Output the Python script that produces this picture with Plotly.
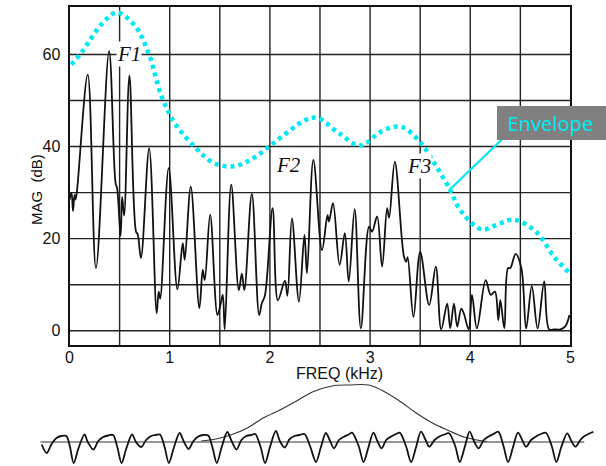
import plotly.graph_objects as go

W, H = 606, 466

# ---- spectrum (FREQ kHz, MAG dB) ----
spec_freq = [0.00, 0.02, 0.035, 0.05, 0.06, 0.075, 0.182, 0.264, 0.395, 0.46, 0.475, 0.51, 0.525, 0.545,
             0.598, 0.664, 0.68, 0.713, 0.795, 0.87, 0.89, 0.905, 0.99, 1.077, 1.13, 1.15, 1.21, 1.296,
             1.33, 1.35, 1.404, 1.477, 1.51, 1.53, 1.549, 1.614, 1.69, 1.72, 1.745, 1.82, 1.893, 1.92,
             1.95, 2.027, 2.08, 2.15, 2.175, 2.22, 2.29, 2.345, 2.37, 2.434, 2.52, 2.575, 2.59, 2.63,
             2.696, 2.748, 2.787, 2.846, 2.908, 2.99, 3.02, 3.07, 3.12, 3.17, 3.19, 3.247, 3.338, 3.36,
             3.375, 3.433, 3.50, 3.59, 3.656, 3.71, 3.77, 3.80, 3.837, 3.87, 3.91, 3.935, 3.984, 4.017,
             4.066, 4.154, 4.204, 4.246, 4.28, 4.30, 4.34, 4.377, 4.40, 4.453, 4.51, 4.558, 4.614, 4.672,
             4.738, 4.787, 4.84, 4.90, 4.95, 4.99]
spec_mag = [28.4, 30.0, 26.0, 29.5, 28.5, 30.5, 55.6, 13.6, 60.7, 32.0, 31.0, 20.6, 29.0, 25.0,
            55.4, 21.5, 21.0, 15.8, 39.6, 3.8, 8.5, 7.0, 35.3, 9.0, 19.0, 15.4, 31.3, 4.9,
            13.2, 11.0, 25.2, 3.4, 6.0, 7.8, 0.3, 31.7, 8.8, 12.4, 8.8, 29.7, 3.4, 6.0,
            7.6, 26.6, 6.6, 10.9, 7.6, 24.4, 6.3, 20.8, 12.5, 37.1, 17.5, 25.1, 23.7, 27.7,
            14.3, 21.2, 10.7, 26.4, 0.5, 22.6, 21.5, 24.8, 13.9, 26.6, 24.5, 36.7, 16.1, 15.0,
            16.0, 3.0, 17.1, 5.6, 13.9, 0.3, 5.9, 0.5, 5.9, 0.9, 4.8, 3.8, 0.3, 7.8,
            0.5, 11.0, 7.8, 8.5, 2.3, 6.7, 0.5, 13.6, 13.6, 16.7, 13.6, 0.5, 9.7, 0.5,
            10.7, 0.3, 0.3, 0.3, 1.0, 3.4]

# ---- envelope ----
env_freq = [0.018, 0.116, 0.33, 0.477, 0.657, 0.789, 0.919, 1.05, 1.247, 1.443, 1.64, 1.837, 2.033,
            2.36, 2.476, 2.69, 2.90, 3.115, 3.31, 3.51, 3.64, 3.79, 3.90, 4.115, 4.295, 4.44, 4.656,
            4.85, 5.066]
env_mag = [57.8, 60.3, 66.8, 69.1, 66.1, 60.3, 50.9, 45.1, 40.0, 36.4, 35.7, 37.5, 40.7,
           45.8, 46.2, 42.9, 40.2, 43.3, 44.3, 40.7, 36.4, 31.0, 26.2, 22.0, 23.3, 24.1, 21.5,
           15.7, 11.0]

# ---- formant labels ----
formant_labels = ["F1", "F2", "F3"]
formant_freq = [0.595, 2.188, 3.486]
formant_mag = [60.2, 36.0, 35.8]

x_ticks = [0, 1, 2, 3, 4, 5]
y_ticks = [0, 20, 40, 60]

# ---- time waveform (ms, arbitrary amplitude) ----
wave_t = [0.13, 0.63, 1.13, 1.63, 2.13, 2.63, 3.00,
          3.37, 3.87, 4.47, 4.80, 5.37, 5.87, 6.37, 6.87, 7.37, 7.80,
          8.23, 8.73, 9.30, 9.70, 10.23, 10.73, 11.23, 11.73, 12.13, 12.60,
          13.03, 13.53, 14.13, 14.53, 15.03, 15.53, 16.03, 16.53, 17.03, 17.45,
          17.90, 18.40, 18.97, 19.40, 19.90, 20.40, 20.90, 21.40, 21.80, 22.35,
          22.80, 23.30, 23.90, 24.30, 24.80, 25.30, 25.80, 26.30, 26.80, 27.40,
          27.97, 28.47, 28.97, 29.40, 29.80, 30.30, 30.80, 31.30, 31.63, 32.30,
          32.80, 33.30, 33.80, 34.20, 34.63, 35.10, 35.60, 36.10, 36.47, 37.10,
          37.63, 38.13, 38.63, 39.10, 39.47, 40.00, 40.50, 41.00, 41.47, 42.10,
          42.57, 43.07, 43.57, 44.00, 44.47, 45.00, 45.50, 46.00, 46.47, 47.00,
          47.47, 47.97, 48.47, 48.90, 49.30, 49.80, 50.30, 50.80, 51.30, 51.90,
          52.37, 52.87, 53.47, 53.90, 54.30, 54.80, 55.13, 55.63, 56.13]
wave_amp = [-2.5, -11, -2, 4, 6, 6, -5,
            -21, -6, 7.5, 0, -7.5, 1, 5, 6.5, 7, -5,
            -21, -6, 7.5, 0, -5, 2, 6, 7, 7.5, -5,
            -21, -6, 9, 1, -7, 1, 5.5, 7, 6.5, -5,
            -21, -5, 10, 1, -7.5, 2, 6, 7, 8, -5,
            -21, -5, 11, 1, -5.5, 3, 6, 7, 8, -5,
            -20, -5, 9, 1, -6.3, 2, 5.3, 7.5, 9.3, -4,
            -20, -5, 9.3, 1, -6.3, 2, 5.5, 8, 9.3, -4,
            -20, -5, 10.3, 2, -4.7, 2, 5.5, 7.5, 8.7, -4,
            -20, -5, 10.3, 1, -6.3, 2, 5.5, 8, 10.3, -4,
            -20, -5, 9.3, 2, -4.7, 2, 5.5, 8, 9.3, -4,
            -20, -5, 8.7, 1, -4.7, 2, 5.3, 8, 10.3]

# ---- analysis window ----
win_t = [16.3, 17.8, 19.3, 21.0, 22.6, 24.3, 26.0, 27.6, 29.6, 31.4, 33.3, 34.6, 36.3, 38.0,
         39.6, 41.3, 43.0, 44.6, 45.3]
win_amp = [1, 3, 7, 14, 24, 32, 41, 50, 56, 57, 57, 52, 42, 30, 20, 12, 5, 1.5, 0.5]

base_t = [0.0, 55.2]
base_amp = [0, 0]

CYAN = "#00E8F0"
FONT = "Liberation Sans, Arial, sans-serif"

fig = go.Figure()

fig.add_trace(go.Scatter(x=spec_freq, y=spec_mag, mode="lines",
                         line=dict(color="#111111", width=1.8, shape="spline", smoothing=1.0),
                         xaxis="x", yaxis="y", showlegend=False, hoverinfo="skip"))
fig.add_trace(go.Scatter(x=env_freq, y=env_mag, mode="lines",
                         line=dict(color=CYAN, width=4.5, dash="4px,4px", shape="spline", smoothing=1.0),
                         xaxis="x", yaxis="y", showlegend=False, hoverinfo="skip"))

fig.add_trace(go.Scatter(x=base_t, y=base_amp, mode="lines",
                         line=dict(color="#333333", width=1.2),
                         xaxis="x2", yaxis="y2", showlegend=False, hoverinfo="skip"))
fig.add_trace(go.Scatter(x=win_t, y=win_amp, mode="lines",
                         line=dict(color="#333333", width=1.1, shape="spline", smoothing=1.0),
                         xaxis="x2", yaxis="y2", showlegend=False, hoverinfo="skip"))
fig.add_trace(go.Scatter(x=wave_t, y=wave_amp, mode="lines",
                         line=dict(color="#111111", width=1.8, shape="spline", smoothing=0.9),
                         xaxis="x2", yaxis="y2", showlegend=False, hoverinfo="skip"))

for lab, fx, fy in zip(formant_labels, formant_freq, formant_mag):
    fig.add_annotation(x=fx, y=fy, xref="x", yref="y", showarrow=False,
                       xanchor="center", yanchor="middle",
                       text=f"<i>{lab}</i>", bgcolor="white", borderpad=0,
                       font=dict(family="Liberation Serif, Times New Roman, serif", size=21, color="#111111"))

# Envelope callout
fig.add_shape(type="line", xref="paper", yref="paper",
              x0=508 / W, y0=1 - 137 / H, x1=452 / W, y1=1 - 190 / H,
              line=dict(color=CYAN, width=2.2))
fig.add_annotation(x=500 / W, y=1 - 123.5 / H, xref="paper", yref="paper", showarrow=False,
                   xanchor="left", yanchor="middle", align="left",
                   text="&nbsp;&nbsp;Envelope", bgcolor="#808080", width=125, height=34,
                   borderpad=0, borderwidth=0,
                   font=dict(family="Noto Sans, Open Sans, sans-serif", size=20, color=CYAN))

# axis titles
fig.add_annotation(x=32.5 / W, y=1 - 190 / H, xref="paper", yref="paper", showarrow=False,
                   xanchor="center", yanchor="middle",
                   text="MAG  (dB)", textangle=-90, font=dict(family=FONT, size=15, color="#111111"))
fig.add_annotation(x=341 / W, y=1 - 373 / H, xref="paper", yref="paper", showarrow=False,
                   xanchor="center", yanchor="middle",
                   text="FREQ (kHz)", font=dict(family=FONT, size=16, color="#111111"))

grid_col = "#222222"
fig.update_layout(
    width=W, height=H,
    margin=dict(l=0, r=0, t=0, b=0, pad=0),
    paper_bgcolor="white", plot_bgcolor="white",
    font=dict(family=FONT, size=16, color="#111111"),
    xaxis=dict(domain=[66.5 / W, 575 / W], range=[0, 5], tickvals=x_ticks,
               ticktext=[str(v) for v in x_ticks],
               showgrid=False, zeroline=False, showline=True, mirror=True,
               linecolor="#111111", linewidth=1.8, ticks="", ticklabelstandoff=-3,
               anchor="y", fixedrange=True),
    yaxis=dict(domain=[1 - 345 / H, 1 - 7 / H], range=[-3.1, 70.3], tickvals=y_ticks,
               ticktext=[str(v) for v in y_ticks],
               showgrid=False, zeroline=False, showline=True, mirror=True,
               linecolor="#111111", linewidth=1.8, ticks="", ticklabelstandoff=4,
               anchor="x", fixedrange=True),
    xaxis2=dict(domain=[0, 1], range=[-3.7, 56.9], visible=False, anchor="y2", fixedrange=True),
    yaxis2=dict(domain=[0, 86 / H], range=[-24, 62], visible=False, anchor="x2", fixedrange=True),
)

# grid lines (every 0.5 kHz and 10 dB), drawn under traces
grid_x = [0.5, 1.0, 1.5, 2.0, 2.5, 3.0, 3.5, 4.0, 4.5]
grid_y = [0, 10, 20, 30, 40, 50, 60]
for gx in grid_x:
    fig.add_shape(type="line", xref="x", yref="paper", x0=gx, x1=gx,
                  y0=1 - 345 / H, y1=1 - 7 / H, layer="below",
                  line=dict(color=grid_col, width=1.4))
for gy in grid_y:
    fig.add_shape(type="line", xref="paper", yref="y", y0=gy, y1=gy,
                  x0=66.5 / W, x1=575 / W, layer="below",
                  line=dict(color=grid_col, width=1.4))

fig.write_html("out.html")
